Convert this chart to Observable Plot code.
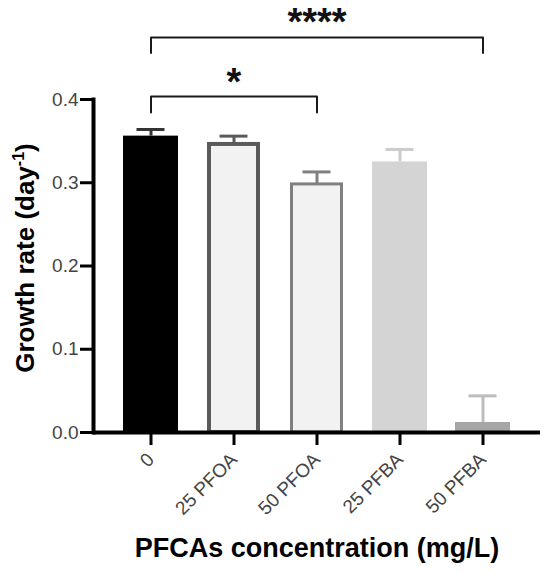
<!DOCTYPE html>
<html><head><meta charset="utf-8">
<script src="https://cdn.jsdelivr.net/npm/d3@7"></script>
<script src="https://cdn.jsdelivr.net/npm/@observablehq/plot@0.6"></script>
<style>body{margin:0;background:#fff}</style>
</head><body><div id="chart"></div>
<script>
// ---- data ----
const categories = ["0", "25 PFOA", "50 PFOA", "25 PFBA", "50 PFBA"];
const growthRate = [0.356, 0.346, 0.298, 0.325, 0.012];
const errorSD    = [0.008, 0.010, 0.015, 0.015, 0.032];
const yTicks = [0, 0.1, 0.2, 0.3, 0.4];
const xLabel = "PFCAs concentration (mg/L)";
const yLabel = "Growth rate (day-1)";
const compFrom   = ["0", "0"];
const compTo     = ["50 PFBA", "50 PFOA"];
const compLabel  = ["****", "*"];
const compLevel  = [0.4745, 0.4035];
const compDrop   = [0.0185, 0.019];

// ---- styles ----
const barFill   = {"0": "#000000", "25 PFOA": "#f2f2f2", "50 PFOA": "#f2f2f2", "25 PFBA": "#d4d4d4", "50 PFBA": "#a6a6a6"};
const errColor  = {"0": "#333333", "25 PFOA": "#5a5a5a", "50 PFOA": "#808080", "25 PFBA": "#cccccc", "50 PFBA": "#bcbcbc"};

const data = categories.map((c, i) => ({cat: c, value: growthRate[i], err: errorSD[i]}));
const brackets = [];
compFrom.forEach((f, i) => {
  const t = compTo[i];
  const i1 = categories.indexOf(f), i2 = categories.indexOf(t);
  const mid = categories[Math.round((i1 + i2) / 2)];
  brackets.push({id: i, pts: [
    {x: f, y: compLevel[i] - compDrop[i]},
    {x: f, y: compLevel[i]},
    {x: t, y: compLevel[i]},
    {x: t, y: compLevel[i] - compDrop[i]}
  ], mid, label: compLabel[i], level: compLevel[i]});
});
const bracketPts = brackets.flatMap(b => b.pts.map(p => ({...p, id: b.id})));

const chart = Plot.plot({
  width: 550, height: 573,
  marginLeft: 93, marginRight: 10, marginTop: 99, marginBottom: 141,
  style: {fontFamily: "'Liberation Sans', Arial, sans-serif", fontSize: "19px", background: "#fff", color: "#000"},
  x: {domain: categories, paddingInner: 0.337, paddingOuter: 0.36, label: null},
  y: {domain: [0, 0.4], label: null},
  marks: [
    Plot.barY(data.filter(d => d.cat !== "25 PFOA" && d.cat !== "50 PFOA"), {x: "cat", y: "value", fill: d => barFill[d.cat]}),
    Plot.barY(data.filter(d => d.cat === "25 PFOA"), {x: "cat", y: "value", fill: d => barFill[d.cat], stroke: "#5a5a5a", strokeWidth: 4, insetLeft: 3, insetRight: 3}),
    Plot.barY(data.filter(d => d.cat === "50 PFOA"), {x: "cat", y: "value", fill: d => barFill[d.cat], stroke: "#808080", strokeWidth: 3, insetLeft: 2.5, insetRight: 2.5}),
    Plot.ruleX(data, {x: "cat", y1: "value", y2: d => d.value + d.err, stroke: d => errColor[d.cat], strokeWidth: 3}),
    Plot.tickY(data, {x: "cat", y: d => d.value + d.err, stroke: d => errColor[d.cat], strokeWidth: 3, insetLeft: 13.5, insetRight: 13.5}),
    Plot.line(bracketPts, {x: "x", y: "y", z: "id", stroke: "#1a1a1a", strokeWidth: 2}),
    Plot.text(brackets, {x: "mid", y: "level", text: "label", fontSize: 38, fontWeight: "bold", lineAnchor: "bottom", dy: -2, letterSpacing: 2, fill: "#111"}),
    Plot.axisY({ticks: yTicks, tickFormat: d => d.toFixed(1), tickSize: 13, tickPadding: 2, strokeWidth: 3, stroke: "#000", fill: "#444", fontSize: 19, label: null}),
    Plot.axisX({tickSize: 13, tickRotate: -45, tickPadding: 11, strokeWidth: 3, stroke: "#000", fill: "#444", fontSize: 19, label: null}),
    Plot.ruleY([0], {strokeWidth: 4, stroke: "#000"}),
    Plot.frame({anchor: "left", strokeWidth: 4, stroke: "#000", strokeLinecap: "square"}),
    Plot.text([yLabel], {frameAnchor: "left", dx: -68, dy: -8, rotate: -90, textAnchor: "middle", lineAnchor: "middle", fontSize: 26, fontWeight: "bold", fill: "#000"}),
    Plot.text([xLabel], {frameAnchor: "bottom", dy: 116, textAnchor: "middle", lineAnchor: "middle", fontSize: 27, fontWeight: "bold", fill: "#000"})
  ]
});
document.getElementById("chart").appendChild(chart);

// superscript for the y label
d3.select(chart).selectAll("text").filter(function() { return this.textContent === yLabel; }).each(function() {
  const t = d3.select(this);
  t.text(null);
  t.append("tspan").text("Growth rate (day");
  t.append("tspan").text("-1").attr("font-size", "16px").attr("dy", "-10");
  t.append("tspan").text(")").attr("dy", "10");
});
</script>
</body></html>
